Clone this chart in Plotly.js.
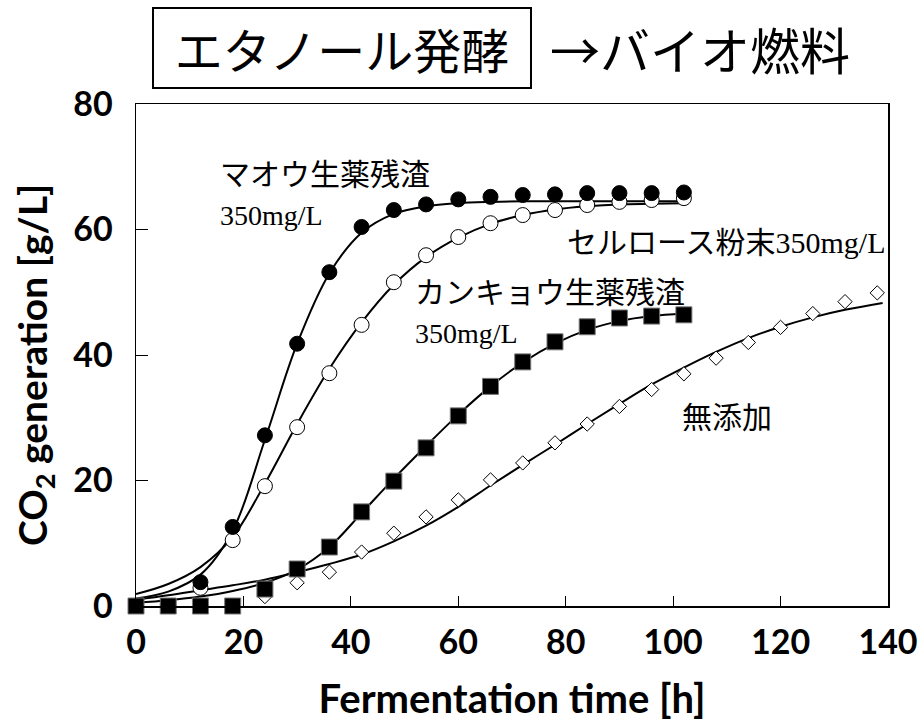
<!DOCTYPE html>
<html>
<head>
<meta charset="utf-8">
<script src="https://cdn.plot.ly/plotly-3.0.1.min.js"></script>
<style>html,body{margin:0;padding:0;background:#fff;}#chart{width:924px;height:728px;}</style>
</head>
<body>
<div id="chart"></div>
<script>
// Measured points (time in hours, CO2 in g/L)
const hours = [0,6,12,18,24,30,36,42,48,54,60,66,72,78,84,90,96,102];
const maou = [0,0,3.8,12.6,27.2,41.8,53.2,60.4,63.1,64.0,64.8,65.2,65.5,65.6,65.8,65.8,65.8,65.9];
const cellulose = [0,0,2.9,10.5,19.1,28.5,37.1,44.8,51.6,55.9,58.8,61.0,62.3,63.1,63.9,64.4,64.7,65.0];
const kankyo = [0,0,0,0,2.7,5.9,9.4,15.0,19.9,25.2,30.3,35.0,38.9,42.1,44.5,45.9,46.2,46.4];
const controlHours = [0,6,12,18,24,30,36,42,48,54,60,66,72,78,84,90,96,102,108,114,120,126,132,138];
const control = [0,0,0,0,1.5,3.7,5.4,8.6,11.6,14.2,16.9,20.1,22.8,26.0,29.0,31.8,34.5,37.0,39.5,42.0,44.4,46.6,48.5,49.9];

// Fitted curves
const fitHours = [0,6,12,18,24,30,36,42,48,54,60,66,72,78,84,90,96,102];
const maouFit = [1.2,2.3,5.0,12.0,26.5,41.8,53.0,59.5,62.5,63.7,64.2,64.4,64.5,64.5,64.5,64.5,64.5,64.5];
const celluloseFit = [1.9,3.5,6.2,11.0,19.5,29.0,37.8,45.2,51.2,55.6,58.7,60.9,62.3,63.2,63.7,64.0,64.1,64.2];
const kankyoFit = [0.5,0.9,1.5,2.4,3.7,5.8,9.4,14.8,20.3,25.5,30.5,35.0,38.8,41.8,44.0,45.4,46.2,46.6];
const controlFitHours = [0,6,12,18,24,30,36,42,48,54,60,66,72,78,84,90,96,102,108,114,120,126,132,139];
const controlFit = [1.0,1.7,2.5,3.3,4.2,5.4,6.7,8.2,10.3,12.8,15.8,19.2,22.5,25.7,29.0,32.2,35.3,38.0,40.5,42.7,44.5,46.0,47.2,48.3];

const xTicks = [0,20,40,60,80,100,120,140];
const yTicks = [0,20,40,60,80];

const fitLine = {color:'#000', width:2, shape:'spline'};
const traces = [
  {x:controlFitHours, y:controlFit, mode:'lines', line:fitLine, hoverinfo:'skip'},
  {x:fitHours, y:kankyoFit, mode:'lines', line:fitLine, hoverinfo:'skip'},
  {x:fitHours, y:celluloseFit, mode:'lines', line:fitLine, hoverinfo:'skip'},
  {x:fitHours, y:maouFit, mode:'lines', line:fitLine, hoverinfo:'skip'},
  {x:controlHours, y:control, mode:'markers', cliponaxis:false,
   marker:{symbol:'diamond', size:11, color:'#fff', line:{color:'#000', width:1}}},
  {x:hours, y:cellulose, mode:'markers', cliponaxis:false,
   marker:{symbol:'circle', size:15, color:'#fff', line:{color:'#000', width:1}}},
  {x:hours, y:maou, mode:'markers', cliponaxis:false,
   marker:{symbol:'circle', size:15, color:'#000', line:{color:'#000', width:1}}},
  {x:hours, y:kankyo, mode:'markers', cliponaxis:false,
   marker:{symbol:'square', size:16, color:'#000', line:{color:'#777', width:1}}}
];

const jp = 'Noto Sans CJK JP';
const serif = 'Liberation Serif';
const lab = 'Lato, Open Sans, sans-serif';
const layout = {
  width:924, height:728,
  margin:{l:136, r:36, t:104, b:122},
  paper_bgcolor:'#fff', plot_bgcolor:'#fff',
  showlegend:false,
  xaxis:{range:[0,140], tickvals:xTicks, ticktext:xTicks.map(String),
    ticks:'inside', ticklen:10, tickcolor:'#000', showgrid:false, zeroline:false,
    showline:true, linecolor:'#000', linewidth:1.5, mirror:true,
    ticklabelstandoff:6,
    tickfont:{family:lab, size:34, color:'#000', weight:700},
    title:{text:'Fermentation time [h]', standoff:24, font:{family:lab, size:40, color:'#000', weight:700}}},
  yaxis:{range:[0,80], tickvals:yTicks, ticktext:yTicks.map(String),
    ticks:'inside', ticklen:12, tickcolor:'#000', showgrid:false, zeroline:false,
    showline:true, linecolor:'#000', linewidth:1.5, mirror:true,
    ticklabelstandoff:15,
    tickfont:{family:lab, size:34, color:'#000', weight:700}},
  annotations:[
    {xref:'paper', yref:'paper', x:-0.1343, y:0.48, xanchor:'center', yanchor:'middle', showarrow:false,
     textangle:-90, text:'CO<sub>2</sub> generation [g/L]', font:{family:lab, size:39, color:'#000', weight:700}},
    {xref:'paper', yref:'paper', x:0.274, y:1.1116, xanchor:'center', yanchor:'middle', showarrow:false,
     text:'エタノール発酵', font:{family:jp, size:48, color:'#000'},
     bordercolor:'#000', borderwidth:2, width:376, height:78, borderpad:0},
    {xref:'paper', yref:'paper', x:0.548, y:1.1116, xanchor:'left', yanchor:'middle', showarrow:false,
     text:'→バイオ燃料', font:{family:jp, size:50, color:'#000'}},
    {x:15.3, y:69.2, xanchor:'left', yanchor:'middle', showarrow:false,
     text:'マオウ生薬残渣', font:{family:jp, size:30, color:'#000'}},
    {x:15.3, y:62.3, xanchor:'left', yanchor:'middle', showarrow:false,
     text:'350mg/L', font:{family:serif, size:28, color:'#000'}},
    {x:140, y:58.3, xanchor:'right', yanchor:'middle', showarrow:false,
     text:'セルロース粉末<span style="font-family:Liberation Serif">350mg/L</span>', font:{family:jp, size:30, color:'#000'}},
    {x:51.6, y:50.4, xanchor:'left', yanchor:'middle', showarrow:false,
     text:'カンキョウ生薬残渣', font:{family:jp, size:30, color:'#000'}},
    {x:51.6, y:43.5, xanchor:'left', yanchor:'middle', showarrow:false,
     text:'350mg/L', font:{family:serif, size:28, color:'#000'}},
    {x:101.3, y:30.4, xanchor:'left', yanchor:'middle', showarrow:false,
     text:'無添加', font:{family:jp, size:30, color:'#000'}}
  ]
};
Plotly.newPlot('chart', traces, layout, {displayModeBar:false, staticPlot:true});
</script>
</body>
</html>
